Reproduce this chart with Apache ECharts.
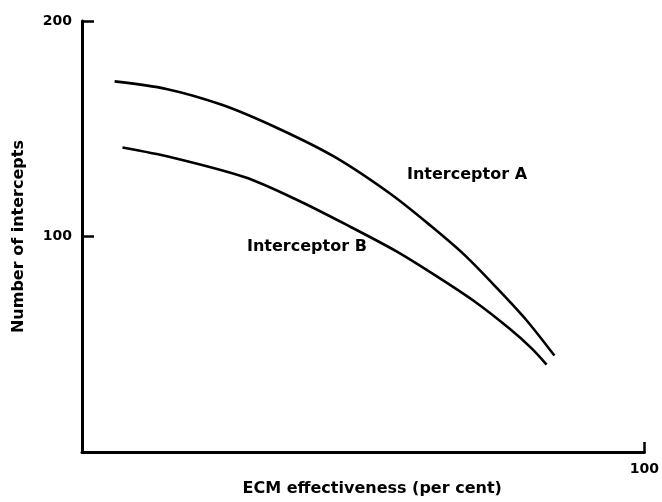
<!DOCTYPE html>
<html>
<head>
<meta charset="utf-8">
<script src="https://cdn.jsdelivr.net/npm/echarts@6/dist/echarts.min.js"></script>
<style>
  html, body { margin: 0; padding: 0; background: #fff; }
  #chart { width: 662px; height: 502px; }
</style>
</head>
<body>
<div id="chart"></div>
<script>
// ECM effectiveness (%) vs number of intercepts
const interceptorA = [
  [5.8, 172], [15, 168.5], [25, 161], [35, 150], [45, 136.8],
  [55, 119.5], [62, 105], [68, 91.5], [74, 75.5], [79, 61.3], [84, 44.8]
];
const interceptorB = [
  [7.2, 141.3], [16, 136.7], [29, 127.5], [38, 117.3], [47, 105.5],
  [56, 93], [64, 80], [70, 69.5], [76, 57.3], [80, 48], [82.6, 40.6]
];
const yTicks = [100, 200];
const xTicks = [100];

const font = '"DejaVu Sans", sans-serif';
const chart = echarts.init(document.getElementById('chart'));

const lineStyle = { color: '#000', width: 2.6 };

chart.setOption({
  animation: false,
  grid: { left: 82, right: 11, top: 21, bottom: 48 },
  xAxis: {
    type: 'value',
    min: 0,
    max: 100,
    interval: 100,
    name: 'ECM effectiveness (per cent)',
    nameLocation: 'middle',
    nameGap: 25,
    nameTextStyle: { fontFamily: font, fontSize: 16, fontWeight: 'bold', color: '#000', padding: [0, 0, 0, 18] },
    axisLine: { lineStyle: { color: '#000', width: 3 } },
    axisTick: { inside: true, length: 10, lineStyle: { color: '#000', width: 2.5 } },
    axisLabel: {
      margin: 10,
      fontFamily: font, fontSize: 14, fontWeight: 'bold', color: '#000',
      formatter: v => xTicks.includes(v) ? String(v) : ''
    },
    splitLine: { show: false }
  },
  yAxis: {
    type: 'value',
    min: 0,
    max: 200,
    interval: 100,
    name: 'Number of intercepts',
    nameLocation: 'middle',
    nameGap: 55,
    nameTextStyle: { fontFamily: font, fontSize: 16, fontWeight: 'bold', color: '#000' },
    axisLine: { lineStyle: { color: '#000', width: 3 } },
    axisTick: { inside: true, length: 12, lineStyle: { color: '#000', width: 2.5 } },
    axisLabel: {
      margin: 10,
      fontFamily: font, fontSize: 14, fontWeight: 'bold', color: '#000',
      formatter: v => yTicks.includes(v) ? String(v) : ''
    },
    splitLine: { show: false }
  },
  series: [
    {
      name: 'Interceptor A',
      type: 'line',
      smooth: 0.3,
      symbol: 'none',
      data: interceptorA,
      lineStyle: lineStyle
    },
    {
      name: 'Interceptor B',
      type: 'line',
      smooth: 0.3,
      symbol: 'none',
      data: interceptorB,
      lineStyle: lineStyle
    }
  ],
  graphic: [
    {
      type: 'text', left: 407, top: 167,
      style: { text: 'Interceptor A', font: 'bold 16px ' + font, fill: '#000' }
    },
    {
      type: 'text', left: 247, top: 239,
      style: { text: 'Interceptor B', font: 'bold 16px ' + font, fill: '#000' }
    }
  ]
});
</script>
</body>
</html>
